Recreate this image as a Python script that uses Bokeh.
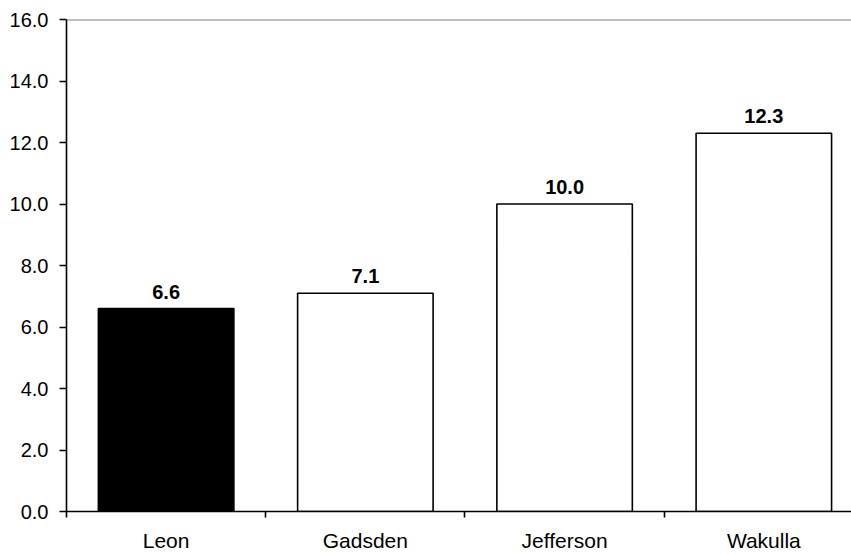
from bokeh.plotting import figure
from bokeh.models import Range1d, FixedTicker, NumeralTickFormatter, Span, ColumnDataSource, LabelSet
from bokeh.embed import file_html
from bokeh.resources import INLINE
from bokeh.core.properties import value

counties = ["Leon", "Gadsden", "Jefferson", "Wakulla"]
rates = [6.6, 7.1, 10.0, 12.3]
fills = ["black", "white", "white", "white"]
y_ticks = [0, 2, 4, 6, 8, 10, 12, 14, 16]

xs = [i + 0.5 for i in range(len(counties))]
src = ColumnDataSource(dict(x=xs, top=rates, fill=fills,
                            label=["%.1f" % r for r in rates]))

p = figure(width=851, height=554, output_backend="svg", toolbar_location=None,
           x_range=Range1d(0, 3.94), y_range=Range1d(0, 16),
           min_border_left=66, min_border_top=19, min_border_bottom=42, min_border_right=0)
p.outline_line_color = None
p.grid.grid_line_color = None
p.background_fill_color = "white"

p.vbar(x="x", top="top", bottom=0, width=0.68, source=src, fill_color="fill",
       line_color="black", line_width=1.6)

labels = LabelSet(x="x", y="top", text="label", source=src, text_align="center",
                  text_baseline="alphabetic", y_offset=10,
                  text_font=value("Liberation Sans"), text_font_style="bold",
                  text_font_size="20px", text_color="black")
p.add_layout(labels)

p.add_layout(Span(location=16, dimension="width", line_color="#808080", line_width=2))

# y axis
p.yaxis.ticker = FixedTicker(ticks=y_ticks)
p.yaxis.formatter = NumeralTickFormatter(format="0.0")
p.yaxis.major_tick_in = 0
p.yaxis.major_tick_out = 7
p.yaxis.minor_tick_line_color = None
p.yaxis.axis_line_width = 1.6
p.yaxis.major_tick_line_width = 1.6
p.yaxis.major_label_standoff = 11
p.yaxis.major_label_text_font = "Liberation Sans"
p.yaxis.major_label_text_font_size = "20px"
p.yaxis.major_label_text_color = "black"

# x axis
p.xaxis.ticker = FixedTicker(ticks=xs, minor_ticks=[0, 1, 2, 3, 4])
p.xaxis.major_label_overrides = {x: c for x, c in zip(xs, counties)}
p.xaxis.major_tick_in = 0
p.xaxis.major_tick_out = 0
p.xaxis.minor_tick_in = 0
p.xaxis.minor_tick_out = 6
p.xaxis.minor_tick_line_width = 1.6
p.xaxis.axis_line_width = 1.6
p.xaxis.major_label_standoff = 11
p.xaxis.major_label_text_font = "Liberation Sans"
p.xaxis.major_label_text_font_size = "21px"
p.xaxis.major_label_text_color = "black"

open("out.html", "w").write(file_html(p, INLINE))
